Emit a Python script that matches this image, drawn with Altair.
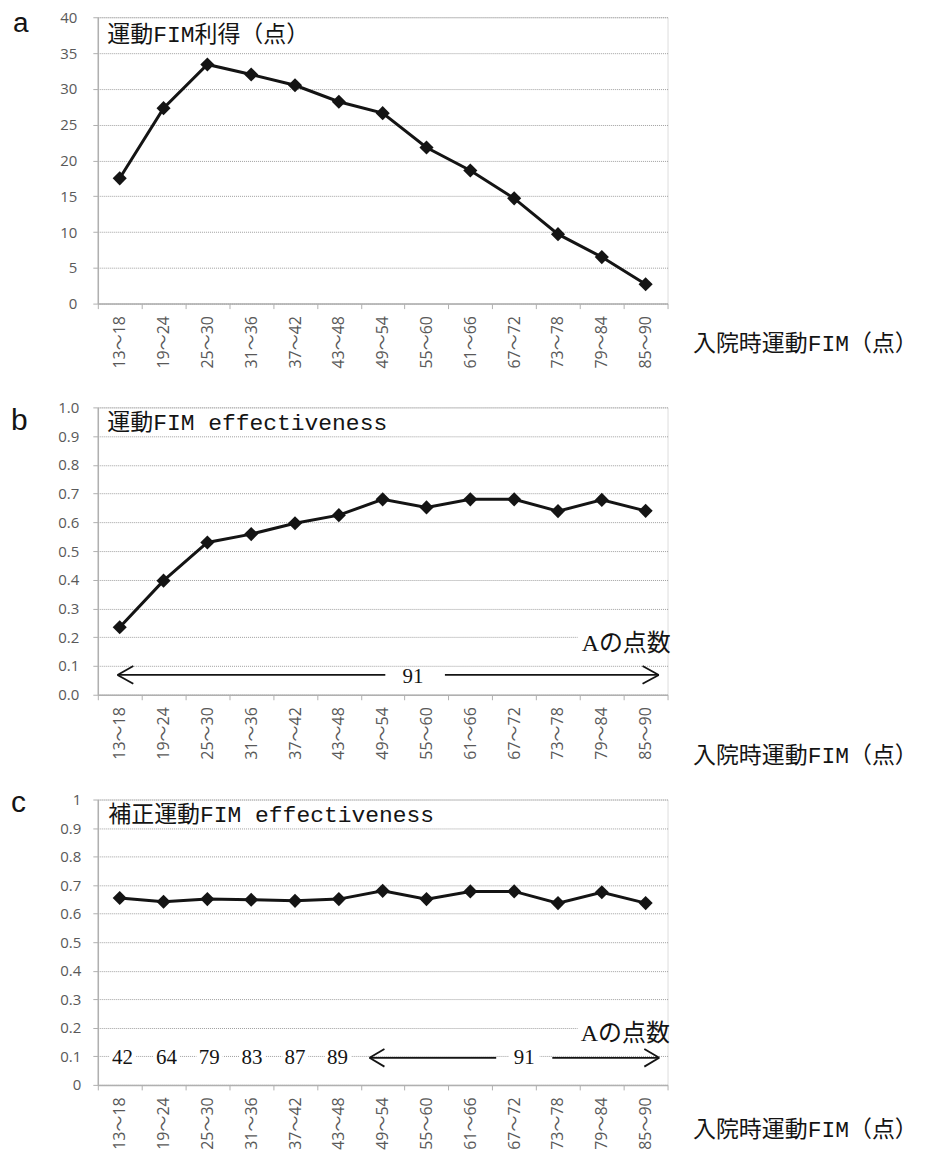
import altair as alt
import pandas as pd

categories = ["13～18", "19～24", "25～30", "31～36", "37～42", "43～48", "49～54",
              "55～60", "61～66", "67～72", "73～78", "79～84", "85～90"]
fim_gain = [17.5, 27.3, 33.4, 32.0, 30.5, 28.2, 26.6, 21.8, 18.6, 14.7, 9.7, 6.5, 2.7]
fim_eff = [0.235, 0.397, 0.530, 0.559, 0.597, 0.625, 0.680, 0.652, 0.680, 0.680, 0.639, 0.678, 0.640]
adj_eff = [0.655, 0.642, 0.651, 0.649, 0.645, 0.651, 0.680, 0.651, 0.678, 0.678, 0.637, 0.675, 0.637]

panel_letters = ["a", "b", "c"]
panel_titles = ["運動FIM利得（点）", "運動FIM effectiveness", "補正運動FIM effectiveness"]
x_title = "入院時運動FIM（点）"
a_label = "Aの点数"
a_scores_low = ["42", "64", "79", "83", "87", "89"]
a_score_high = "91"

# annotation geometry, x in band units (band i spans i..i+1), y in value units
b_seg_x1 = [0.45, 0.45, 0.45, 7.92, 12.80, 12.80]
b_seg_x2 = [6.56, 0.81, 0.81, 12.80, 12.43, 12.43]
b_seg_y1 = [0.069, 0.069, 0.069, 0.069, 0.069, 0.069]
b_seg_y2 = [0.069, 0.100, 0.038, 0.069, 0.100, 0.038]
b_text_x = [7.19, 11.04]
b_text_y = [0.0625, 0.177]
b_box_x1 = [10.95]
b_box_x2 = [13.0]
b_box_y1 = [0.14]
b_box_y2 = [0.215]

c_seg_x1 = [6.20, 6.20, 6.20, 10.37, 12.81, 12.81]
c_seg_x2 = [9.09, 6.54, 6.54, 12.81, 12.47, 12.47]
c_seg_y1 = [0.095, 0.095, 0.095, 0.095, 0.095, 0.095]
c_seg_y2 = [0.095, 0.126, 0.064, 0.095, 0.126, 0.064]
c_num_x = [0.565, 1.565, 2.545, 3.52, 4.50, 5.47]
c_num_y = [0.093] * 6
c_text_x = [9.73, 11.02]
c_text_y = [0.093, 0.178]
c_box_x1 = [0.26, 1.26, 2.25, 3.23, 4.21, 5.18, 9.38, 10.95]
c_box_x2 = [0.87, 1.87, 2.85, 3.82, 4.80, 5.78, 10.08, 13.0]
c_box_y1 = [0.07] * 7 + [0.14]
c_box_y2 = [0.12] * 7 + [0.215]

SERIF = "Liberation Serif, Noto Sans CJK JP"
MONO = "Liberation Mono, Noto Sans CJK JP"
SANS = "Open Sans, Noto Sans CJK JP"
LETTER_FONT = "Liberation Sans"
INK = "#141414"
AXIS_GREY = "#b0b0b0"
W = 571


def make_panel(letter, values, ymax, yvals, yfmt, height, title, tx, ty,
               lab_pad, letter_dx, letter_base, letter_fs, xt_y, segs=None, texts=None,
               boxes=None, nums=None):
    df = pd.DataFrame({"cat": categories, "val": values})
    x = alt.X("cat:N", sort=categories,
              scale=alt.Scale(type="band", paddingInner=0, paddingOuter=0),
              axis=alt.Axis(tickBand="extent", labelAngle=-90, labelFont=SANS,
                            labelFontSize=16, labelColor="#595959", labelPadding=7,
                            tickSize=5, tickColor=AXIS_GREY, domainColor=AXIS_GREY,
                            domainWidth=1.5, grid=False, orient="bottom",
                            title=x_title, titleFont=MONO, titleFontSize=23,
                            titleFontWeight="normal", titleColor=INK, titleAngle=0,
                            titleAlign="left", titleBaseline="middle",
                            titleX=W + 25, titleY=xt_y))
    yscale = alt.Scale(domain=[0, ymax], nice=False, zero=True)
    yaxis = alt.Axis(values=yvals, format=yfmt, labelFont=SANS, labelFontSize=15,
                     labelColor="#595959", labelPadding=lab_pad, tickSize=5,
                     tickColor=AXIS_GREY, domainColor=AXIS_GREY, domainWidth=1.5,
                     grid=True, gridColor="#a0a0a0", gridDash=[1, 1], gridWidth=1,
                     title=title, titleFont=MONO, titleFontSize=23,
                     titleFontWeight="normal", titleColor=INK, titleAngle=0,
                     titleAlign="left", titleBaseline="middle",
                     titleX=tx, titleY=ty)
    y = alt.Y("val:Q", scale=yscale, axis=yaxis)
    base = alt.Chart(df)
    line = base.mark_line(color=INK, strokeWidth=3).encode(x=x, y=y)
    pts = base.mark_point(shape="diamond", filled=True, size=200, color=INK,
                          opacity=1).encode(x=x, y=y)
    main = alt.layer(line, pts)

    layers = []
    uscale = alt.Scale(domain=[0, 13], nice=False, zero=False)
    if boxes is not None:
        bdf = pd.DataFrame({"x1": boxes[0], "x2": boxes[1], "val": boxes[2], "val2": boxes[3]})
        layers.append(alt.Chart(bdf).mark_rect(color="white").encode(
            x=alt.X("x1:Q", scale=uscale, axis=None), x2="x2:Q",
            y=alt.Y("val:Q", scale=yscale, axis=yaxis), y2="val2:Q"))
    if segs is not None:
        sdf = pd.DataFrame({"x1": segs[0], "x2": segs[1], "val": segs[2], "val2": segs[3]})
        layers.append(alt.Chart(sdf).mark_rule(color=INK, strokeWidth=1.8).encode(
            x=alt.X("x1:Q", scale=uscale, axis=None), x2="x2:Q",
            y=alt.Y("val:Q", scale=yscale, axis=yaxis), y2="val2:Q"))
    if nums is not None:
        ndf = pd.DataFrame({"u": nums[0], "val": nums[1], "t": nums[2]})
        layers.append(alt.Chart(ndf).mark_text(font=SERIF, fontSize=21, color=INK,
                                               align="center", baseline="middle").encode(
            x=alt.X("u:Q", scale=uscale, axis=None),
            y=alt.Y("val:Q", scale=yscale, axis=yaxis), text="t:N"))
    if texts is not None:
        tdf = pd.DataFrame({"u": texts[0], "val": texts[1], "t": texts[2],
                            "al": texts[3], "fs": texts[4]})
        for al in ["center", "left"]:
            sub = tdf[tdf["al"] == al]
            if len(sub) == 0:
                continue
            layers.append(alt.Chart(sub).mark_text(font=SERIF, color=INK, align=al,
                                                   baseline="middle").encode(
                x=alt.X("u:Q", scale=uscale, axis=None),
                y=alt.Y("val:Q", scale=yscale, axis=yaxis), text="t:N",
                size=alt.Size("fs:Q", scale=None, legend=None)))
    ldf = pd.DataFrame({"t": [letter]})
    let = alt.Chart(ldf).mark_text(font=LETTER_FONT, fontSize=letter_fs, color=INK,
                                   align="left", baseline="alphabetic").encode(
        x=alt.value(letter_dx), y=alt.value(letter_base), text="t:N")
    if layers:
        ann = alt.layer(*layers)
        ch = alt.layer(main, ann, let).resolve_scale(x="independent")
    else:
        ch = alt.layer(main, let)
    return ch.properties(width=W, height=height)


pa = make_panel("a", fim_gain, 40, list(range(0, 41, 5)), "d", 287,
                panel_titles[0], 9, 17, 16, -85, 15, 28, 40)
pb = make_panel("b", fim_eff, 1.0, [i / 10 for i in range(11)], ".1f", 288,
                panel_titles[1], 9, 15, 14, -87, 23, 30, 61,
                segs=(b_seg_x1, b_seg_x2, b_seg_y1, b_seg_y2),
                texts=(b_text_x, b_text_y, [a_score_high, a_label], ["center", "left"], [21, 24]),
                boxes=(b_box_x1, b_box_x2, b_box_y1, b_box_y2))
pc = make_panel("c", adj_eff, 1.0, [i / 10 for i in range(11)], "~g", 286,
                panel_titles[2], 10, 15, 12, -87, 13, 30, 45,
                segs=(c_seg_x1, c_seg_x2, c_seg_y1, c_seg_y2),
                texts=(c_text_x, c_text_y, [a_score_high, a_label], ["center", "left"], [21, 24]),
                boxes=(c_box_x1, c_box_x2, c_box_y1, c_box_y2),
                nums=(c_num_x, c_num_y, a_scores_low))

top_pair = alt.concat(pa, pb, columns=1, align="none", spacing=30)
chart = alt.concat(top_pair, pc, columns=1, align="none", spacing=19).properties(
    padding={"left": 2, "top": 0, "right": 0, "bottom": 0}
).configure_view(stroke=None).configure(background="white")

chart.save("out.html", embed_options={"renderer": "svg", "actions": False})
